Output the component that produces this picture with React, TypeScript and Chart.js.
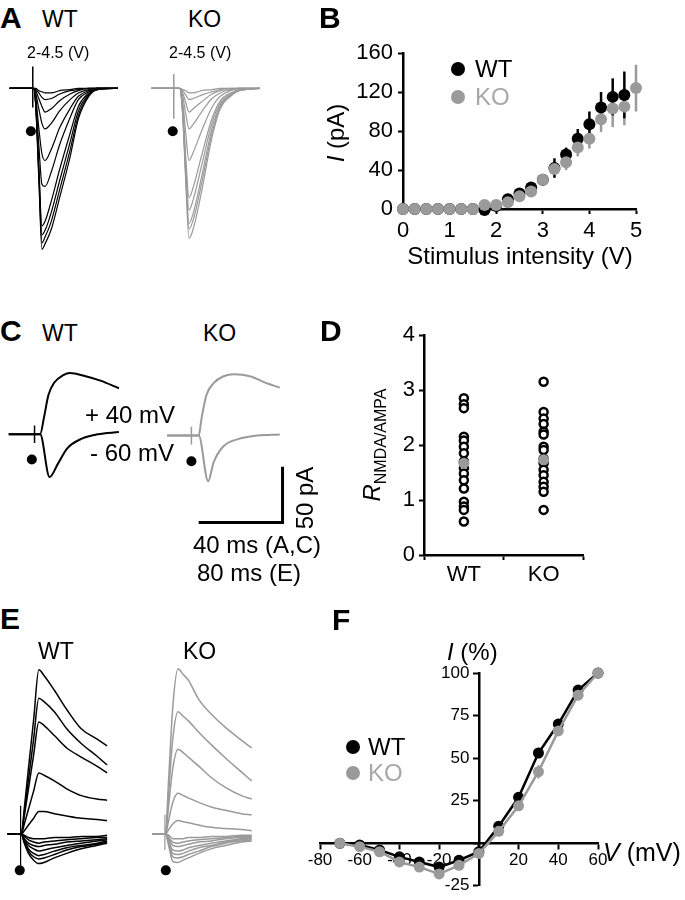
import React, { useEffect, useRef } from "react";
import { Chart, registerables } from "chart.js";
Chart.register(...registerables);

const FONT = '"Liberation Sans", Arial, Helvetica, sans-serif';
Chart.defaults.font.family = FONT;
const BLACK = "#000000";
const GREY = "#9a9a9a";
const LEGEND_GREY = "#a8a8a8";

// ---------------- Panel A: EPSC traces (time ms, current pA) ----------------
const A_WT_TIMES = [0, 11.5, 12.5, 14, 15.5, 17, 20, 24, 29, 33, 38, 42, 52];
const A_WT_TRACES = [
  [0, 0, -15, -80, -143, -138, -125, -97, -61, -27, -7, -1, 0],
  [0, 0, -14, -76, -137, -132, -118, -90, -55, -24, -6, -1, 0],
  [0, 0, -13, -72, -130, -126, -110, -82, -48, -20, -5, -1, 0],
  [0, 0, -12, -68, -122, -118, -100, -72, -40, -16, -4, 0, 0],
  [0, 0, -10, -50, -85, -87, -74, -50, -26, -10, -3, 0, 0],
  [0, 0, -7, -35, -58, -64, -54, -35, -18, -7, -2, 0, 0],
  [0, 0, -4, -18, -31, -36, -31, -20, -10, -4, -1, 0, 0],
  [0, 0, -2, -9, -16, -21, -18, -11, -5, -2, 0, 0, 0],
  [0, 0, -1, -4, -8, -10, -9, -5, -2, -1, 0, 0, 0],
  [0, 0, 0, -2, -3, -4, -4, -2, -1, 0, 0, 0, 0],
];
const A_KO_TIMES = [0, 11.5, 13.5, 15, 16.5, 18, 20, 24, 29, 33, 38, 42, 52];
const A_KO_TRACES = [
  [0, 0, 0, -25, -85, -133, -125, -92, -44, -18, -7, -2, 0],
  [0, 0, 0, -23, -80, -125, -117, -85, -40, -16, -6, -2, 0],
  [0, 0, 0, -22, -77, -120, -111, -79, -36, -15, -6, -2, 0],
  [0, 0, 0, -20, -70, -108, -99, -69, -31, -13, -5, -1, 0],
  [0, 0, 0, -18, -62, -97, -88, -60, -27, -11, -4, -1, 0],
  [0, 0, 0, -12, -41, -64, -57, -38, -17, -7, -2, 0, 0],
  [0, 0, 0, -7, -23, -36, -32, -21, -9, -4, -1, 0, 0],
  [0, 0, 0, -4, -13, -21, -18, -12, -5, -2, -1, 0, 0],
  [0, 0, 0, -2, -6, -10, -9, -6, -3, -1, 0, 0, 0],
  [0, 0, 0, -1, -2, -4, -4, -2, -1, 0, 0, 0, 0],
];
const A_WT_ARTIFACT = { t: [11.1, 11.1], v: [19.5, -17] };
const A_KO_ARTIFACT = { t: [10.7, 10.7], v: [12.7, -27] };
const A_STIM_DOT = { t: 10.2, v: -38 };

// ---------------- Panel B: input-output ----------------
const B_STIM = [0, 0.25, 0.5, 0.75, 1, 1.25, 1.5, 1.75, 2, 2.25, 2.5, 2.75, 3, 3.25, 3.5, 3.75, 4, 4.25, 4.5, 4.75, 5];
const B_WT = [0, 0, 0, 0, 0, 0, 0, -1, 3, 10, 16, 22, 30, 42, 56, 72, 87, 104, 115, 117, null];
const B_WT_ERR = [0, 0, 0, 0, 0, 0, 0, 1, 1, 2, 2, 3, 5, 10, 7, 10, 13, 16, 19, 24, 0];
const B_KO = [0, 0, 0, 0, 0, 0, 0, 4, 4, 7, 13, 18, 30, 41, 48, 63, 72, 92, 103, 105, 124];
const B_KO_ERR = [0, 0, 0, 0, 0, 0, 0, 1, 1, 2, 2, 3, 6, 6, 8, 9, 10, 13, 19, 19, 24];

// ---------------- Panel C: +40 / -60 mV traces ----------------
const C_WT_POS_T = [0, 15.1, 16.9, 19.1, 21.8, 26.2, 29.3, 36.9, 44, 52.9];
const C_WT_POS_V = [0, 0, 15, 36, 47, 54, 56, 53, 49, 42];
const C_WT_NEG_T = [0, 15.1, 19.6, 23.6, 28, 35.1, 42.7, 52.9];
const C_WT_NEG_V = [0, 0, -39, -27, -13, -4, 0, 2];
const C_KO_POS_T = [0, 15.1, 16.4, 18.7, 22.2, 26.7, 32, 40, 46.2, 53.8];
const C_KO_POS_V = [0, 0, 15, 36, 47, 53, 55, 53, 48, 43];
const C_KO_NEG_T = [0, 15.1, 19.6, 22.2, 26.7, 34.2, 43.1, 53.8];
const C_KO_NEG_V = [0, 0, -41, -24, -10, -3, 0, 1];
const C_SCALE_MS = 40;
const C_SCALE_PA = 50;

// ---------------- Panel D: NMDA/AMPA ratio ----------------
const D_GROUPS = ["WT", "KO"];
const D_WT = [2.85, 2.74, 2.67, 2.15, 2.08, 1.97, 1.85, 1.7, 1.58, 1.48, 1.36, 1.21, 0.97, 0.88, 0.82, 0.61];
const D_KO = [3.15, 2.6, 2.48, 2.38, 2.24, 2.19, 1.97, 1.91, 1.75, 1.67, 1.55, 1.45, 1.33, 1.24, 1.15, 0.82];
const D_MEAN = [1.67, 1.73];
const D_SEM = [0.15, 0.13];

// ---------------- Panel E: NMDA traces at several holding potentials ----------------
const E_TIMES = [0, 13, 16, 20, 25, 30, 35, 45, 57, 71, 86, 96];
const E_WT_TRACES = [
  [0, 0, 23, 58, 101, 145, 140, 127, 110, 93, 84, 78],
  [0, 0, 19, 48, 84, 120, 117, 108, 93, 80, 69, 61],
  [0, 0, 16, 40, 70, 99, 96, 87, 76, 68, 60, 54],
  [0, 0, 9, 22, 38, 54, 52, 47, 40, 34, 31, 30],
  [0, 0, 3, 8, 14, 20, 20, 18, 16, 14, 13, 12],
  [0, 0, -8, -17, -23, -26, -25, -21, -17, -13, -10, -8],
  [0, 0, -7, -15, -20, -22, -21, -18, -14, -11, -9, -7],
  [0, 0, -6, -13, -17, -19, -18, -15, -12, -10, -8, -6],
  [0, 0, -5, -10, -13, -15, -14, -12, -10, -8, -6, -5],
  [0, 0, -4, -8, -10, -11, -10, -9, -7, -6, -5, -4],
  [0, 0, -2, -5, -7, -8, -7, -6, -5, -4, -3, -3],
  [0, 0, -1, -3, -4, -4, -4, -3, -3, -2, -2, -1],
];
const E_KO_TRACES = [
  [0, 0, 48, 112, 146, 141, 136, 119, 106, 94, 83, 76],
  [0, 0, 36, 84, 108, 104, 100, 90, 79, 67, 55, 47],
  [0, 0, 25, 58, 75, 72, 68, 60, 50, 41, 34, 31],
  [0, 0, 12, 28, 36, 34, 32, 28, 24, 21, 18, 17],
  [0, 0, 4, 9, 12, 11, 10, 8, 6, 5, 4, 3],
  [0, 0, -10, -24, -25, -23, -21, -17, -13, -10, -7, -6],
  [0, 0, -8, -20, -21, -20, -18, -15, -11, -8, -6, -5],
  [0, 0, -7, -17, -18, -17, -15, -12, -10, -7, -5, -4],
  [0, 0, -6, -14, -15, -14, -12, -10, -8, -6, -4, -3],
  [0, 0, -4, -10, -11, -10, -9, -7, -6, -4, -3, -3],
  [0, 0, -3, -7, -8, -7, -6, -5, -4, -3, -2, -2],
  [0, 0, -1, -4, -4, -4, -3, -3, -2, -2, -1, -1],
];
const E_WT_ARTIFACT = { t: [12.4, 12.4], v: [25, -28] };
const E_KO_ARTIFACT = { t: [12.4, 12.4], v: [17, -14] };

// ---------------- Panel F: I–V ----------------
const F_V = [-70, -60, -50, -40, -30, -20, -10, 0, 10, 20, 30, 40, 50, 60];
const F_WT = [0, -1, -4, -8, -11, -14, -10, -5, 10, 27, 53, 70, 90, 100];
const F_WT_ERR = [0, 1, 1, 2, 2, 2, 2, 1, 2, 2, 3, 3, 2, 0];
const F_KO = [0, -2, -5, -11, -14, -18, -13, -6, 7, 22, 42, 66, 87, 100];
const F_KO_ERR = [0, 1, 1, 2, 2, 2, 2, 1, 2, 2, 4, 3, 3, 0];

// ---------------- helpers ----------------
const xy = (xs: any[], ys: any[]) => xs.map((x, i) => ({ x, y: ys[i] }));

function trace(times: number[], values: number[], color: string, width = 1.2) {
  return {
    data: xy(times, values),
    borderColor: color,
    borderWidth: width,
    pointRadius: 0,
    cubicInterpolationMode: "monotone",
    fill: false,
  };
}
function segment(xs: number[], ys: number[], color: string, width: number) {
  return { data: xy(xs, ys), borderColor: color, borderWidth: width, pointRadius: 0, tension: 0, fill: false };
}
function dot(t: number, v: number, r: number) {
  return {
    data: [{ x: t, y: v }],
    showLine: false,
    pointRadius: r,
    pointBackgroundColor: BLACK,
    pointBorderWidth: 0,
    borderColor: BLACK,
  };
}

const errorBars = {
  id: "errorBars",
  beforeDatasetsDraw(chart: any) {
    const ctx = chart.ctx;
    const yScale = chart.scales.y;
    chart.data.datasets.forEach((ds: any, i: number) => {
      if (!ds.errors) return;
      const meta = chart.getDatasetMeta(i);
      ctx.save();
      ctx.strokeStyle = ds.errorColor;
      ctx.lineWidth = ds.errorWidth || 2.5;
      meta.data.forEach((pt: any, j: number) => {
        const raw = ds.data[j];
        const y = raw && typeof raw === "object" ? raw.y : raw;
        const e = ds.errors[j];
        if (y === null || y === undefined || !e) return;
        ctx.beginPath();
        ctx.moveTo(pt.x, yScale.getPixelForValue(y - e));
        ctx.lineTo(pt.x, yScale.getPixelForValue(y + e));
        ctx.stroke();
      });
      ctx.restore();
    });
  },
};

function TraceChart(props: any) {
  const { left, top, width, height, x0, y0, sx, sy, datasets } = props;
  const ref = useRef<HTMLCanvasElement>(null);
  useEffect(() => {
    const chart = new Chart(ref.current as HTMLCanvasElement, {
      type: "line",
      data: { datasets: datasets() },
      options: {
        animation: false,
        responsive: false,
        events: [],
        plugins: { legend: { display: false }, tooltip: { enabled: false } },
        layout: { padding: 0 },
        scales: {
          x: { type: "linear", display: false, min: (left - x0) / sx, max: (left + width - x0) / sx },
          y: { type: "linear", display: false, min: (y0 - top - height) / sy, max: (y0 - top) / sy },
        },
      },
    } as any);
    return () => chart.destroy();
  }, []);
  return <canvas ref={ref} width={width} height={height} style={{ position: "absolute", left, top, width, height }} />;
}

function PlotChart(props: any) {
  const { left, top, width, height, config } = props;
  const ref = useRef<HTMLCanvasElement>(null);
  useEffect(() => {
    const chart = new Chart(ref.current as HTMLCanvasElement, config());
    return () => chart.destroy();
  }, []);
  return <canvas ref={ref} width={width} height={height} style={{ position: "absolute", left, top, width, height }} />;
}

const axisStyle = (size: number) => ({
  ticks: { color: BLACK, font: { family: FONT, size }, maxRotation: 0, autoSkip: false },
  grid: { display: true, drawOnChartArea: false, drawTicks: true, tickLength: 5, tickColor: BLACK, tickWidth: 2, color: BLACK },
  border: { display: true, color: BLACK, width: 2.5 },
});

const baseOptions = {
  animation: false,
  responsive: false,
  events: [],
  plugins: { legend: { display: false }, tooltip: { enabled: false } },
};

function configB() {
  const ax = axisStyle(22);
  return {
    type: "line",
    data: {
      datasets: [
        {
          label: "KO", data: xy(B_STIM, B_KO), errors: B_KO_ERR, errorColor: GREY, showLine: false,
          pointRadius: 6, pointBackgroundColor: GREY, pointBorderWidth: 0, borderColor: GREY, clip: false,
        },
        {
          label: "WT", data: xy(B_STIM, B_WT), errors: B_WT_ERR, errorColor: BLACK, showLine: false,
          pointRadius: 6, pointBackgroundColor: BLACK, pointBorderWidth: 0, borderColor: BLACK, clip: false,
        },
      ],
    },
    options: {
      ...baseOptions,
      layout: { padding: { top: 23, right: 49, left: 0, bottom: 0 } },
      scales: {
        x: { ...ax, type: "linear", min: 0, max: 5, ticks: { ...ax.ticks, stepSize: 1, padding: 4 },
          afterFit: (s: any) => { s.height = 71; } },
        y: { ...ax, type: "linear", min: 0, max: 160, ticks: { ...ax.ticks, stepSize: 40, padding: 5 },
          afterFit: (s: any) => { s.width = 63; } },
      },
    },
    plugins: [errorBars],
  };
}

function configD() {
  const ax = axisStyle(22);
  const circles = (group: string, vals: number[]) => ({
    data: vals.map((v) => ({ x: group, y: v })),
    showLine: false, pointRadius: 4, pointBorderWidth: 2.5, pointBorderColor: BLACK,
    pointBackgroundColor: "#ffffff", borderColor: BLACK, clip: false,
  });
  return {
    type: "line",
    data: {
      labels: D_GROUPS,
      datasets: [
        {
          data: xy(D_GROUPS, D_MEAN), errors: D_SEM, errorColor: GREY, errorWidth: 3, showLine: false,
          pointRadius: 5.5, pointBackgroundColor: GREY, pointBorderWidth: 0, borderColor: GREY, clip: false,
        },
        circles("WT", D_WT),
        circles("KO", D_KO),
      ],
    },
    options: {
      ...baseOptions,
      layout: { padding: { top: 25, right: 5, left: 0, bottom: 0 } },
      scales: {
        x: { ...ax, type: "category", offset: true, grid: { ...ax.grid, offset: true }, ticks: { ...ax.ticks, padding: 2 },
          afterFit: (s: any) => { s.height = 35; } },
        y: { ...ax, type: "linear", min: 0, max: 4, ticks: { ...ax.ticks, stepSize: 1, padding: 4 },
          afterFit: (s: any) => { s.width = 84; } },
      },
    },
    plugins: [errorBars],
  };
}

function configF() {
  const ax = axisStyle(17);
  const skipZeroX = (v: any) => (v === 0 ? "" : String(v));
  const skipZeroY = (v: any) => (v === 0 ? "" : String(v) + "  ");
  const series = (vals: number[], errs: number[], color: string) => ({
    data: xy(F_V, vals), errors: errs, errorColor: color, errorWidth: 2, borderColor: color, borderWidth: 2.5,
    pointRadius: 5.5, pointBackgroundColor: color, pointBorderWidth: 0, tension: 0, clip: false,
  });
  return {
    type: "line",
    data: { datasets: [series(F_KO, F_KO_ERR, GREY), series(F_WT, F_WT_ERR, BLACK)] },
    options: {
      ...baseOptions,
      layout: { padding: { top: 33, right: 87, left: 20, bottom: 8 } },
      scales: {
        x: { ...ax, type: "linear", min: -80, max: 60, position: { y: 0 },
          ticks: { ...ax.ticks, stepSize: 20, padding: 2, callback: skipZeroX },
          afterFit: (s: any) => { s.height = 0; } },
        y: { ...ax, type: "linear", min: -25, max: 100, position: { x: 0 },
          ticks: { ...ax.ticks, stepSize: 25, padding: 4, callback: skipZeroY },
          afterFit: (s: any) => { s.width = 0; } },
      },
    },
    plugins: [errorBars],
  };
}

function Txt(props: any) {
  const { x, y, size = 24, bold = false, color = BLACK, align = "left", rotate, children } = props;
  const tx = align === "center" ? "-50%" : align === "right" ? "-100%" : "0";
  return (
    <div
      style={{
        position: "absolute", left: x, top: y, fontSize: size, fontWeight: bold ? 700 : 400, color,
        lineHeight: 1, whiteSpace: "nowrap",
        transform: `translate(${tx}, -50%)${rotate ? ` rotate(${rotate}deg)` : ""}`,
      }}
    >
      {children}
    </div>
  );
}

function Dot(props: any) {
  const { x, y, r, color } = props;
  return <div style={{ position: "absolute", left: x - r, top: y - r, width: 2 * r, height: 2 * r, borderRadius: "50%", background: color }} />;
}

export default function App() {
  return (
    <div style={{ position: "fixed", left: 0, top: 0, width: 685, height: 900, background: "#fff", fontFamily: FONT, color: BLACK, overflow: "hidden" }}>
      {/* Panel A */}
      <TraceChart left={0} top={50} width={135} height={220} x0={5} y0={85} sx={2.25} sy={1.18}
        datasets={() => [
          ...A_WT_TRACES.map((v) => trace(A_WT_TIMES, v, BLACK, 1.2)),
          segment(A_WT_ARTIFACT.t, A_WT_ARTIFACT.v, BLACK, 1.5),
          dot(A_STIM_DOT.t, A_STIM_DOT.v, 5),
        ]} />
      <TraceChart left={140} top={50} width={135} height={220} x0={147} y0={85} sx={2.25} sy={1.18}
        datasets={() => [
          ...A_KO_TRACES.map((v) => trace(A_KO_TIMES, v, GREY, 1.2)),
          segment(A_KO_ARTIFACT.t, A_KO_ARTIFACT.v, GREY, 1.5),
          dot(A_STIM_DOT.t, A_STIM_DOT.v, 5),
        ]} />
      <Txt x={0} y={18} size={30} bold>A</Txt>
      <Txt x={42} y={19} size={23}>WT</Txt>
      <Txt x={188} y={19} size={23}>KO</Txt>
      <Txt x={27} y={53} size={16}>2-4.5 (V)</Txt>
      <Txt x={169} y={53} size={16}>2-4.5 (V)</Txt>

      {/* Panel B */}
      <PlotChart left={340} top={30} width={345} height={250} config={configB} />
      <Txt x={319} y={18} size={30} bold>B</Txt>
      <Txt x={336} y={133} size={24} align="center" rotate={-90}><i>I</i> (pA)</Txt>
      <Txt x={520} y={256} size={24} align="center">Stimulus intensity (V)</Txt>
      <Dot x={458} y={69} r={7} color={BLACK} />
      <Txt x={475} y={69} size={24}>WT</Txt>
      <Dot x={458} y={97} r={7} color={GREY} />
      <Txt x={475} y={97} size={24} color={LEGEND_GREY}>KO</Txt>

      {/* Panel C */}
      <TraceChart left={0} top={355} width={135} height={140} x0={4} y0={435} sx={2.25} sy={1.18}
        datasets={() => [
          trace(C_WT_POS_T, C_WT_POS_V, BLACK, 2),
          trace(C_WT_NEG_T, C_WT_NEG_V, BLACK, 2),
          segment([12.4, 12.4], [8, -8], BLACK, 1.5),
          dot(11.1, -23, 5),
        ]} />
      <TraceChart left={150} top={355} width={145} height={180} x0={163} y0={435} sx={2.25} sy={1.18}
        datasets={() => [
          trace(C_KO_POS_T, C_KO_POS_V, GREY, 2),
          trace(C_KO_NEG_T, C_KO_NEG_V, GREY, 2),
          segment([11.6, 11.6], [8, -8], GREY, 1.5),
          dot(11.6, -23, 5),
          segment([15.1, 15.1 + C_SCALE_MS, 15.1 + C_SCALE_MS], [-78, -78, -78 + C_SCALE_PA], BLACK, 3),
        ]} />
      <Txt x={0} y={331} size={30} bold>C</Txt>
      <Txt x={42} y={333} size={23}>WT</Txt>
      <Txt x={203} y={333} size={23}>KO</Txt>
      <Txt x={85} y={415} size={24}>+ 40 mV</Txt>
      <Txt x={90} y={453} size={24}>- 60 mV</Txt>
      <Txt x={305} y={498} size={24} align="center" rotate={-90}>50 pA</Txt>
      <Txt x={193} y={545} size={24}>40 ms (A,C)</Txt>
      <Txt x={197} y={573} size={24}>80 ms (E)</Txt>

      {/* Panel D */}
      <PlotChart left={340} top={310} width={250} height={280} config={configD} />
      <Txt x={320} y={331} size={30} bold>D</Txt>
      <Txt x={372} y={445} size={24} align="center" rotate={-90}>
        <i>R</i><span style={{ fontSize: 16, position: "relative", top: 6 }}>NMDA/AMPA</span>
      </Txt>

      {/* Panel E */}
      <TraceChart left={0} top={640} width={125} height={250} x0={3} y0={837} sx={1.125} sy={1.18}
        datasets={() => [
          ...E_WT_TRACES.map((v) => trace(E_TIMES, v, BLACK, 1.5)),
          segment(E_WT_ARTIFACT.t, E_WT_ARTIFACT.v, BLACK, 1.2),
          dot(11.6, -32, 5),
        ]} />
      <TraceChart left={135} top={640} width={130} height={250} x0={148} y0={837} sx={1.125} sy={1.18}
        datasets={() => [
          ...E_KO_TRACES.map((v) => trace(E_TIMES, v, GREY, 1.5)),
          segment(E_KO_ARTIFACT.t, E_KO_ARTIFACT.v, GREY, 1.2),
          dot(13.3, -32, 5),
        ]} />
      <Txt x={0} y={619} size={30} bold>E</Txt>
      <Txt x={38} y={651} size={23}>WT</Txt>
      <Txt x={183} y={651} size={23}>KO</Txt>

      {/* Panel F */}
      <PlotChart left={300} top={640} width={385} height={260} config={configF} />
      <Txt x={332} y={620} size={30} bold>F</Txt>
      <Txt x={447} y={652} size={24}><i>I</i> (%)</Txt>
      <Txt x={603} y={852} size={25}><i>V</i> (mV)</Txt>
      <Dot x={353} y={747} r={7} color={BLACK} />
      <Txt x={368} y={747} size={24}>WT</Txt>
      <Dot x={353} y={773} r={7} color={GREY} />
      <Txt x={368} y={773} size={24} color={LEGEND_GREY}>KO</Txt>
    </div>
  );
}
